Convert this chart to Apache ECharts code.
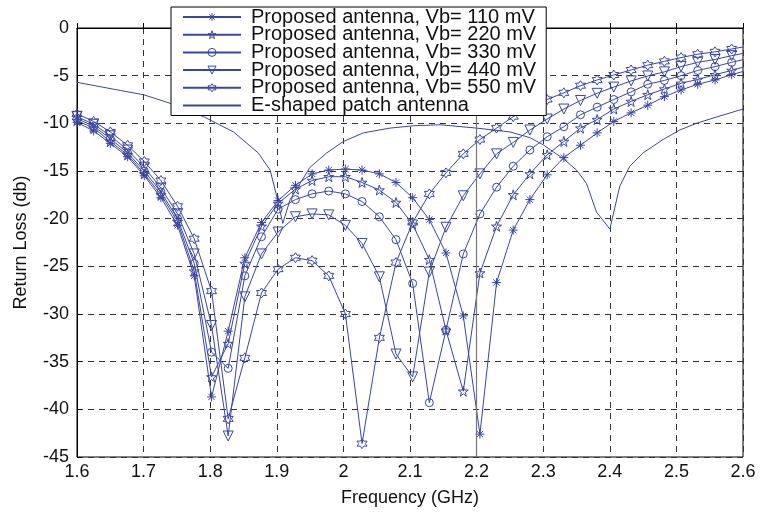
<!DOCTYPE html>
<html>
<head>
<meta charset="utf-8">
<script src="https://cdn.jsdelivr.net/npm/echarts@6/dist/echarts.min.js"></script>
<style>
  html, body { margin: 0; padding: 0; background: #fff; }
  #chart { width: 760px; height: 517px; }
</style>
</head>
<body>
<div id="chart"></div>
<script>
// sweep points of the proposed antenna (GHz)
const freq = [1.600, 1.625, 1.650, 1.676, 1.701, 1.726, 1.751, 1.776, 1.802, 1.827,
  1.852, 1.877, 1.902, 1.928, 1.953, 1.978, 2.003, 2.028, 2.054, 2.079,
  2.104, 2.129, 2.154, 2.180, 2.205, 2.230, 2.255, 2.280, 2.306, 2.331,
  2.356, 2.381, 2.406, 2.432, 2.457, 2.482, 2.507, 2.532, 2.558, 2.583, 2.608];

const vb110 = [-9.9, -10.8, -12.1, -13.5, -15.5, -17.8, -20.7, -26.0, -38.7, -31.8,
  -24.1, -20.4, -18.1, -16.5, -15.3, -14.9, -14.8, -14.9, -15.3, -16.2,
  -17.8, -20.1, -23.6, -30.2, -42.6, -26.7, -21.2, -18.0, -15.4, -13.6,
  -12.3, -11.0, -9.8, -8.9, -8.1, -7.2, -6.5, -5.9, -5.45, -4.9, -4.4];
const vb220 = [-9.7, -10.5, -11.9, -13.3, -15.3, -17.5, -20.3, -25.5, -36.6, -33.1,
  -24.7, -20.8, -18.4, -16.9, -16.0, -15.6, -15.6, -16.2, -17.0, -18.3,
  -20.6, -24.3, -31.7, -38.1, -25.7, -20.8, -17.5, -15.3, -13.3, -11.9,
  -10.5, -9.6, -8.5, -7.7, -7.0, -6.4, -5.8, -5.4, -4.9, -4.45, -3.95];
const vb330 = [-9.5, -10.3, -11.6, -13.1, -15.0, -17.2, -20.0, -24.7, -34.0, -35.7,
  -26.0, -21.9, -19.0, -18.0, -17.4, -17.1, -17.4, -18.2, -19.8, -22.2,
  -26.8, -39.3, -31.7, -23.7, -19.5, -16.7, -14.5, -12.8, -11.4, -10.35,
  -9.1, -8.3, -7.5, -6.7, -5.9, -5.5, -5.0, -4.45, -4.05, -3.6, -3.2];
const vb440 = [-9.3, -10.1, -11.3, -12.8, -14.6, -16.8, -19.5, -23.7, -31.2, -42.8,
  -28.2, -23.7, -21.4, -19.8, -19.5, -19.6, -20.7, -22.6, -26.1, -34.2,
  -36.6, -25.6, -20.9, -17.6, -15.3, -13.2, -12.0, -10.7, -9.55, -8.5,
  -7.6, -6.85, -6.2, -5.55, -5.03, -4.6, -4.05, -3.6, -3.3, -2.9, -2.55];
const vb550 = [-9.0, -9.8, -10.9, -12.3, -14.0, -16.0, -18.7, -22.1, -27.6, -41.0,
  -34.6, -27.8, -25.3, -24.1, -24.4, -26.0, -30.0, -43.6, -32.5, -24.6,
  -20.4, -17.4, -15.2, -13.2, -11.7, -10.5, -9.3, -8.3, -7.5, -6.8,
  -6.05, -5.45, -4.93, -4.4, -3.9, -3.5, -3.1, -2.75, -2.5, -2.2, -1.9];

// reference E-shaped patch antenna (no markers)
const eFreq = [1.600, 1.665, 1.700, 1.740, 1.790, 1.835, 1.872, 1.890, 1.900, 1.909,
  1.920, 1.935, 1.950, 1.975, 2.000, 2.030, 2.070, 2.105, 2.145, 2.200,
  2.250, 2.280, 2.300, 2.330, 2.350, 2.365, 2.380, 2.400, 2.415, 2.430,
  2.450, 2.480, 2.505, 2.530, 2.555, 2.600];
const eLoss = [-5.7, -6.55, -7.0, -7.9, -9.3, -10.9, -13.1, -14.9, -17.7, -20.5,
  -18.0, -16.3, -14.6, -13.1, -11.9, -11.0, -10.5, -10.26, -10.15, -10.5,
  -10.9, -11.5, -12.25, -13.7, -14.9, -16.3, -19.3, -21.1, -16.6, -14.5,
  -13.1, -11.7, -10.7, -10.0, -9.45, -8.5];

const names = [
  'Proposed antenna, Vb= 110 mV',
  'Proposed antenna, Vb= 220 mV',
  'Proposed antenna, Vb= 330 mV',
  'Proposed antenna, Vb= 440 mV',
  'Proposed antenna, Vb= 550 mV',
  'E-shaped patch antenna'
];

const blue = '#3a45a3';
const font = 'Liberation Sans, Arial, Helvetica, sans-serif';

const symAsterisk = 'path://M5,0L5,10M0,5L10,5M1.5,1.5L8.5,8.5M1.5,8.5L8.5,1.5';
const symPentagram = 'path://M0,-5L1.12,-1.55L4.76,-1.55L1.82,0.59L2.94,4.05L0,1.91L-2.94,4.05L-1.82,0.59L-4.76,-1.55L-1.12,-1.55Z';
const symTriangle = 'path://M0,0L10,0L5,8.66Z';
const symHexagram = 'path://M0,-5L1.44,-2.5L4.33,-2.5L2.89,0L4.33,2.5L1.44,2.5L0,5L-1.44,2.5L-4.33,2.5L-2.89,0L-4.33,-2.5L-1.44,-2.5Z';

const hollow = { color: 'none', borderColor: blue, borderWidth: 1 };

function pairs(xs, ys) {
  return xs.map((x, i) => [x, ys[i]]);
}

function proposed(name, ys, symbol, size) {
  return {
    name: name,
    type: 'line',
    data: pairs(freq, ys),
    symbol: symbol,
    symbolSize: size,
    showAllSymbol: true,
    lineStyle: { color: blue, width: 1 },
    itemStyle: hollow,
    emphasis: { disabled: true }
  };
}

const myChart = echarts.init(document.getElementById('chart'));
const option = {
  animation: false,
  grid: {
    left: 77, top: 28, width: 666, height: 429,
    show: true, borderColor: '#000', borderWidth: 1, backgroundColor: 'transparent'
  },
  legend: {
    orient: 'vertical',
    left: 171, top: 7,
    padding: [0, 10, 0, 11],
    itemWidth: 58, itemHeight: 10, itemGap: -2.3,
    backgroundColor: '#fff',
    borderColor: '#000', borderWidth: 1,
    borderRadius: 0,
    textStyle: { fontSize: 20, lineHeight: 17.5, color: '#111', fontFamily: font, padding: [0, 0, 0, 5] },
    data: names.map((n, i) => ({
      name: n,
      itemStyle: i < 5 ? hollow : { opacity: 0 }
    })),
    z: 10
  },
  xAxis: {
    type: 'value',
    min: 1.6, max: 2.6, interval: 0.1,
    name: 'Frequency (GHz)',
    nameLocation: 'middle',
    nameGap: 32,
    nameTextStyle: { fontSize: 18, color: '#111', fontFamily: font },
    axisLine: { lineStyle: { color: '#000' } },
    axisTick: { inside: true, length: 5, lineStyle: { color: '#000' } },
    axisLabel: {
      fontSize: 18, color: '#111', fontFamily: font, margin: 6,
      formatter: (v) => String(+v.toFixed(1))
    },
    splitLine: { show: true, lineStyle: { color: '#333', type: [6, 5], width: 1 } }
  },
  yAxis: {
    type: 'value',
    min: -45, max: 0, interval: 5,
    name: 'Return Loss (db)',
    nameLocation: 'middle',
    nameGap: 47,
    nameTextStyle: { fontSize: 18, color: '#111', fontFamily: font },
    axisLine: { show: true, lineStyle: { color: '#000' } },
    axisTick: { show: true, inside: true, length: 5, lineStyle: { color: '#000' } },
    axisLabel: { fontSize: 18, color: '#111', fontFamily: font, margin: 8 },
    splitLine: { show: true, lineStyle: { color: '#333', type: [6, 5], width: 1 } }
  },
  series: [
    proposed(names[0], vb110, symAsterisk, 9),
    proposed(names[1], vb220, symPentagram, 10),
    proposed(names[2], vb330, 'circle', 8),
    proposed(names[3], vb440, symTriangle, 10),
    proposed(names[4], vb550, symHexagram, 10),
    {
      name: names[5],
      type: 'line',
      data: pairs(eFreq, eLoss),
      symbol: 'none',
      showSymbol: false,
      lineStyle: { color: blue, width: 1 },
      itemStyle: { color: blue },
      emphasis: { disabled: true },
      markLine: {
        silent: true,
        symbol: 'none',
        label: { show: false },
        lineStyle: { color: '#777', type: 'solid', width: 1.2 },
        data: [{ xAxis: 2.2 }]
      }
    }
  ]
};

myChart.setOption(option);
</script>
</body>
</html>
